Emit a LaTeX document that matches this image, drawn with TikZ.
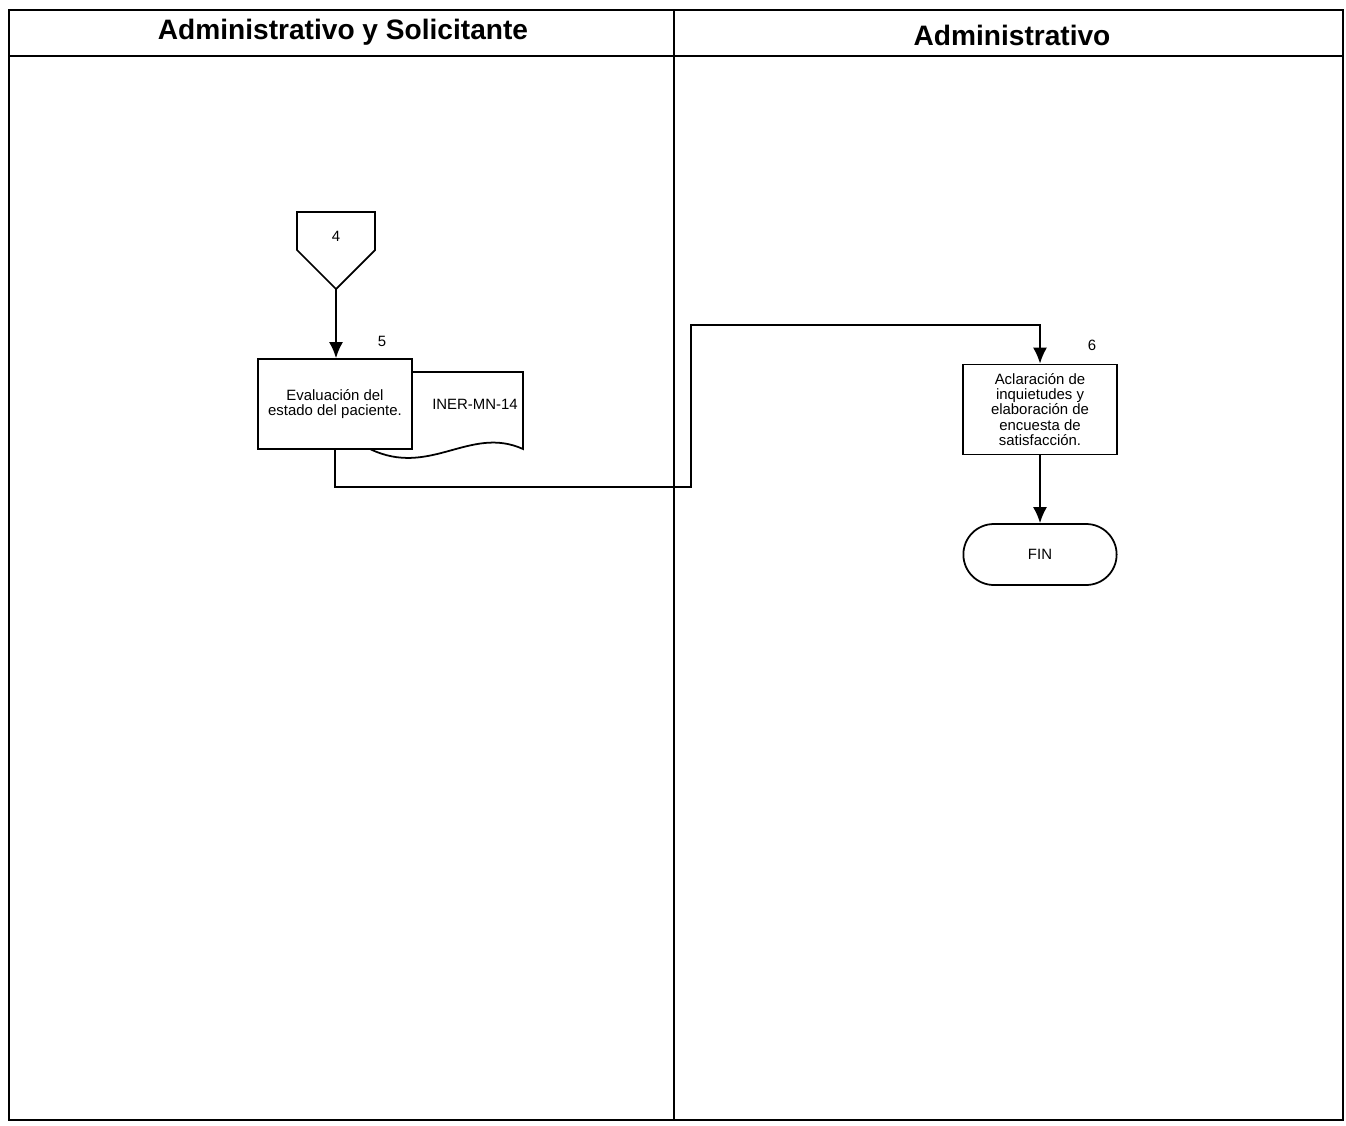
\documentclass[tikz,border=0pt]{standalone}
\usepackage{fontspec}
\setmainfont{Liberation Sans}
\usetikzlibrary{arrows.meta,positioning,shapes.misc}
\tikzset{
  lanetitle/.style={font=\fontsize{16}{18}\selectfont\bfseries},
  actbox/.style={draw,line width=1pt,fill=white,minimum width=3.08cm,
    minimum height=1.8cm,align=center,font=\fontsize{8.5}{8.6}\selectfont},
  endbox/.style={draw,line width=1pt,rounded rectangle,minimum width=3.3cm,
    minimum height=1.22cm,font=\fontsize{8.5}{8.6}\selectfont},
  steplabel/.style={font=\fontsize{8.5}{8.6}\selectfont},
  shapeline/.style={line width=1pt},
  flowline/.style={line width=1pt,-{Latex[length=3.2mm,width=2.8mm]}},
}
\begin{document}
\begin{tikzpicture}[x=0.02cm,y=-0.02cm]
  \useasboundingbox (0,0) rectangle (1346,1126);
  % swim lanes
  \draw[line width=0.8pt] (9,10) rectangle (1343,1120);
  \draw[line width=0.8pt] (9,56) -- (1343,56);
  \draw[line width=0.6pt] (674,10) -- (674,1120);
  \node[lanetitle] (lane1) at (343,32) {Administrativo y Solicitante};
  \node[lanetitle] (lane2) at (1012,35) {Administrativo};

  % connector 4
  \draw[shapeline] (297,212) -- (375,212) -- (375,250) -- (336,289) -- (297,250) -- cycle;
  \node[steplabel] (c4) at (336,236) {4};
  \coordinate (c4tip) at (336,289);

  % step 5 with document
  \draw[shapeline,fill=white] (370,372) -- (523,372) -- (523,449)
    .. controls (470,425) and (430,478) .. (370,449) -- cycle;
  \node[steplabel] (doc5) at (475,404) {INER-MN-14};
  \node[actbox] (box5) at (335,404) {Evaluación del\\estado del paciente.};
  \node[steplabel] (n5) at (382,341) {5};

  % step 6
  \node[actbox] (box6) at (1040,409.5)
    {Aclaración de\\inquietudes y\\elaboración de\\encuesta de\\satisfacción.};
  \node[steplabel] (n6) at (1092,345) {6};
  \node[endbox] (fin) at (1040,554.5) {FIN};

  \draw[flowline] (c4tip) -- (c4tip |- box5.north);
  \draw[flowline] (box5.south) -- (335,487) -- (691,487) -- (691,325) -| (box6.north);
  \draw[flowline] (box6.south) -- (fin.north);
\end{tikzpicture}
\end{document}
